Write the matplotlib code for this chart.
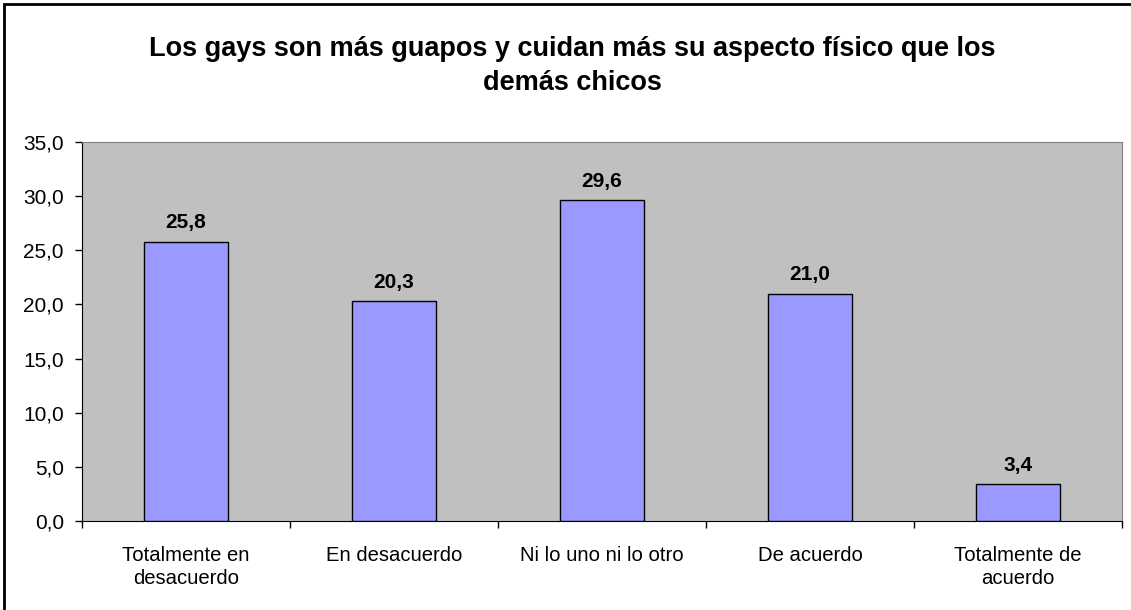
import matplotlib.pyplot as plt
import numpy as np
from matplotlib.patches import Rectangle

plt.rcParams['font.family'] = ['Liberation Sans', 'DejaVu Sans']

categorias = ['Totalmente en\ndesacuerdo', 'En desacuerdo', 'Ni lo uno ni lo otro',
              'De acuerdo', 'Totalmente de\nacuerdo']
valores = [25.8, 20.3, 29.6, 21.0, 3.4]
titulo = 'Los gays son más guapos y cuidan más su aspecto físico que los\ndemás chicos'

fig = plt.figure(figsize=(11.31, 6.10), dpi=100)
ax = fig.add_axes([82/1131, 89/610, 1040/1131, 379/610])

x = np.arange(len(valores))
ax.bar(x, valores, width=0.4, color='#9999FF', edgecolor='black', linewidth=1, zorder=3)
for xi, v in zip(x, valores):
    ax.text(xi, v + 0.85, '{:.1f}'.format(v).replace('.', ','), ha='center', va='bottom',
            fontsize=15, fontweight='bold')

ax.set_facecolor('#C0C0C0')
ax.set_xlim(-0.5, len(valores) - 0.5)
ax.set_ylim(0, 35)
ax.set_yticks(np.arange(0, 35.1, 5))
ax.set_yticklabels(['{:.1f}'.format(t).replace('.', ',') for t in np.arange(0, 35.1, 5)], fontsize=15)
ax.set_xticks(x)
ax.set_xticklabels(categorias, fontsize=14.6, linespacing=1.3)
ax.tick_params(axis='x', length=0, pad=18)
ax.set_xticks(np.arange(-0.5, len(valores)), minor=True)
ax.tick_params(axis='x', which='minor', length=5, width=1, color='black')
ax.tick_params(axis='y', length=5, width=1, color='black', pad=8)
for s in ['top', 'right']:
    ax.spines[s].set_color('#808080')
for s in ['left', 'bottom']:
    ax.spines[s].set_color('black')

fig.text(572/1131, 1 - 66/610, titulo, ha='center', va='center', fontsize=19.5,
         fontweight='bold', linespacing=1.38)

fig.patches.append(Rectangle((4/1131, -0.1), 1.2, 1 - 4/610 + 0.1, transform=fig.transFigure,
                             fill=False, edgecolor='black', linewidth=2))

fig.savefig('out.png', dpi=100)
